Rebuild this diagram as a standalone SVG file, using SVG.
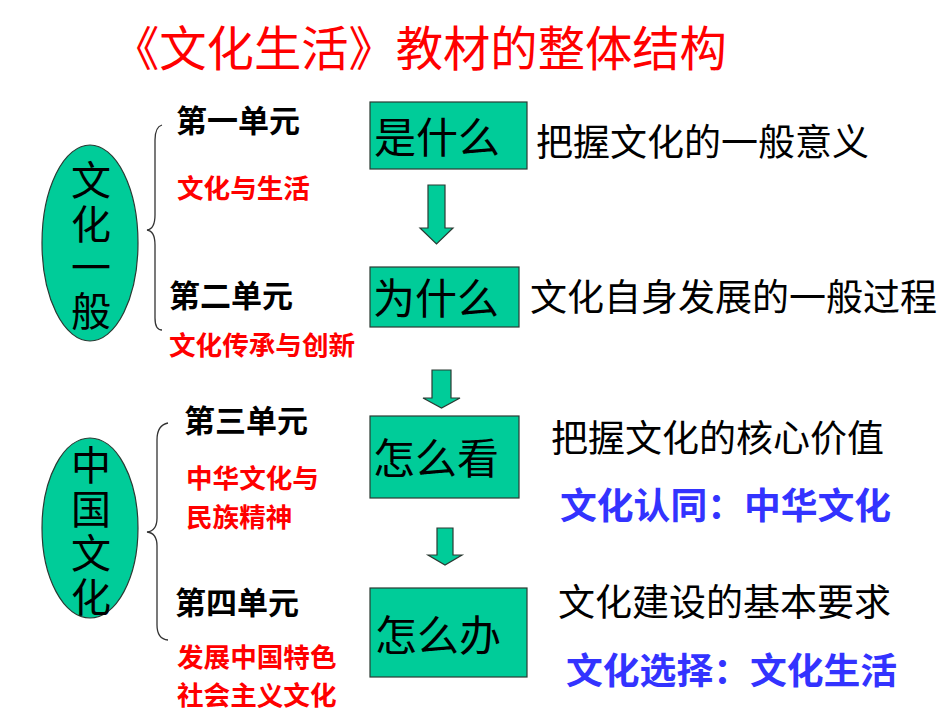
<svg xmlns="http://www.w3.org/2000/svg" width="950" height="713" viewBox="0 0 950 713">
<style>
text{font-family:"Noto Sans CJK SC","Noto Sans",sans-serif;}
.shape{fill:#00cc99;stroke:#2a3a33;stroke-width:1.2;}
.title{font-size:47.3px;fill:#ff0000;}
.ell{font-size:40px;fill:#000;writing-mode:tb;glyph-orientation-vertical:0;}
.unit{font-size:31px;font-weight:bold;fill:#000;}
.sub{font-size:26.6px;font-weight:bold;fill:#ff0000;}
.box{font-size:42px;fill:#000;}
.desc{font-size:37px;fill:#000;}
.blue{font-size:36.8px;font-weight:bold;fill:#3333ff;}
.brace{fill:none;stroke:#333;stroke-width:1.3;}
</style>
<rect width="950" height="713" fill="#fff"/>
<g id="title"><text class="title" x="112" y="65.5">《文化生活》教材的整体结构</text></g>

<g id="node-wenhua-yiban">
<ellipse class="shape" cx="90" cy="243" rx="48" ry="98"/>
<text class="ell" x="91" y="160" letter-spacing="3.5">文化一般</text>
</g>
<g id="node-zhongguo-wenhua">
<ellipse class="shape" cx="90" cy="528" rx="48" ry="90"/>
<text class="ell" x="91" y="445" letter-spacing="4">中国文化</text>
</g>

<g id="unit1"><text class="unit" x="176" y="132">第一单元</text><text class="sub" x="177" y="198">文化与生活</text></g>
<g id="unit2"><text class="unit" x="169" y="307">第二单元</text><text class="sub" x="169" y="355">文化传承与创新</text></g>
<g id="unit3"><text class="unit" x="184" y="432">第三单元</text><text class="sub" x="186" y="488">中华文化与</text><text class="sub" x="186" y="527">民族精神</text></g>
<g id="unit4"><text class="unit" x="175" y="614">第四单元</text><text class="sub" x="177" y="667">发展中国特色</text><text class="sub" x="177" y="705">社会主义文化</text></g>

<g id="box-shishenme"><rect class="shape" x="370" y="102" width="157" height="67"/><text class="box" x="374" y="153">是什么</text></g>
<g id="box-weishenme"><rect class="shape" x="370" y="267" width="149" height="60"/><text class="box" x="373" y="314">为什么</text></g>
<g id="box-zenmekan"><rect class="shape" x="370" y="416" width="149" height="82"/><text class="box" x="373" y="474">怎么看</text></g>
<g id="box-zenmeban"><rect class="shape" x="370" y="588" width="157" height="89"/><text class="box" x="375" y="651">怎么办</text></g>

<g id="desc1"><text class="desc" x="536" y="156">把握文化的一般意义</text></g>
<g id="desc2"><text class="desc" x="530" y="311">文化自身发展的一般过程</text></g>
<g id="desc3"><text class="desc" x="551" y="452">把握文化的核心价值</text><text class="blue" x="560" y="519">文化认同：中华文化</text></g>
<g id="desc4"><text class="desc" x="558" y="616">文化建设的基本要求</text><text class="blue" x="566" y="684">文化选择：文化生活</text></g>

<g id="connectors">
<path class="brace" d="M162,125 Q155,127 155,140 L155,215 Q155,229 147,230 Q155,231 155,245 L155,318 Q155,330 162,330"/>
<path class="brace" d="M168,423 Q157,425 157,440 L157,518 Q157,531 147,532 Q157,533 157,546 L157,625 Q157,639 168,640"/>
<polygon class="shape" points="428,185 445,185 445,228 453,228 436.5,244 420,228 428,228"/>
<polygon class="shape" points="432,370 451,370 451,398 460,398 441.5,408 423,398 432,398"/>
<polygon class="shape" points="437,528 453,528 453,555 462,555 445,565 428,555 437,555"/>
</g>
</svg>
